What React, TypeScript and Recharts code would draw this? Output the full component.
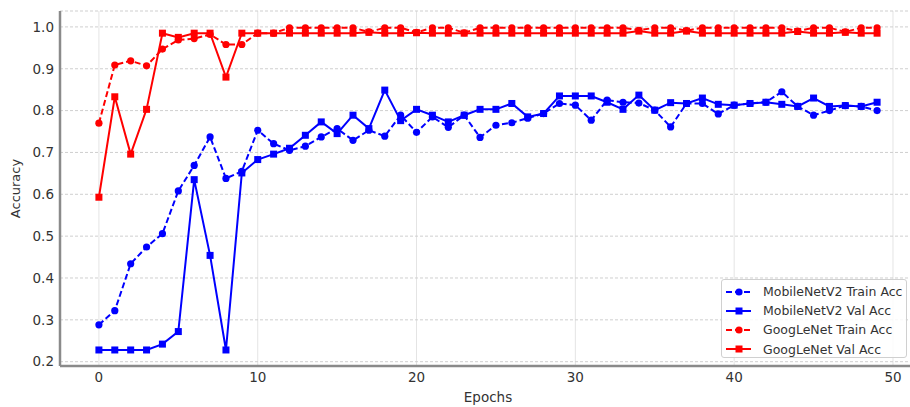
import React from "react"
import {
  LineChart,
  Line,
  XAxis,
  YAxis,
  CartesianGrid,
} from "recharts"

const epochs = [
  0, 1, 2, 3, 4, 5, 6, 7, 8, 9,
  10, 11, 12, 13, 14, 15, 16, 17, 18, 19,
  20, 21, 22, 23, 24, 25, 26, 27, 28, 29,
  30, 31, 32, 33, 34, 35, 36, 37, 38, 39,
  40, 41, 42, 43, 44, 45, 46, 47, 48, 49,
]

const mobileTrain = [
  0.288, 0.322, 0.434, 0.474, 0.506, 0.608, 0.669, 0.737, 0.638, 0.655,
  0.753, 0.721, 0.705, 0.715, 0.737, 0.757, 0.729, 0.753, 0.739, 0.789,
  0.748, 0.785, 0.76, 0.789, 0.736, 0.765, 0.771, 0.782, 0.793, 0.817,
  0.813, 0.777, 0.825, 0.82, 0.818, 0.801, 0.761, 0.817, 0.817, 0.792,
  0.813, 0.817, 0.82, 0.845, 0.81, 0.789, 0.8, 0.812, 0.81, 0.8,
]

const mobileVal = [
  0.228, 0.228, 0.228, 0.228, 0.242, 0.272, 0.635, 0.454, 0.228, 0.651,
  0.683, 0.696, 0.71, 0.741, 0.773, 0.745, 0.789, 0.757, 0.849, 0.776,
  0.803, 0.789, 0.773, 0.789, 0.803, 0.803, 0.817, 0.785, 0.793, 0.835,
  0.835, 0.835, 0.82, 0.803, 0.837, 0.801, 0.819, 0.817, 0.83, 0.815,
  0.813, 0.817, 0.82, 0.815, 0.81, 0.83, 0.81, 0.812, 0.81, 0.82,
]

const googleTrain = [
  0.77, 0.909, 0.919, 0.907, 0.947, 0.969, 0.972, 0.982, 0.958, 0.958,
  0.985, 0.985, 0.998, 0.998, 0.998, 0.998, 0.998, 0.988, 0.998, 0.998,
  0.987, 0.998, 0.998, 0.986, 0.998, 0.998, 0.998, 0.998, 0.998, 0.998,
  0.998, 0.998, 0.998, 0.998, 0.992, 0.998, 0.998, 0.991, 0.998, 0.998,
  0.998, 0.998, 0.998, 0.998, 0.99, 0.998, 0.998, 0.988, 0.998, 0.998,
]

const googleVal = [
  0.593, 0.833, 0.696, 0.803, 0.985, 0.975, 0.985, 0.985, 0.88, 0.985,
  0.985, 0.985, 0.985, 0.985, 0.985, 0.985, 0.985, 0.987, 0.985, 0.985,
  0.986, 0.985, 0.985, 0.985, 0.985, 0.985, 0.985, 0.985, 0.985, 0.985,
  0.985, 0.985, 0.985, 0.985, 0.99, 0.985, 0.985, 0.99, 0.985, 0.985,
  0.985, 0.985, 0.985, 0.985, 0.989, 0.985, 0.985, 0.987, 0.985, 0.985,
]

const xTicks = [0, 10, 20, 30, 40, 50]
const yTicks = [0.2, 0.3, 0.4, 0.5, 0.6, 0.7, 0.8, 0.9, 1.0]

const data = epochs.map((epoch, i) => ({
  epoch,
  mobileTrain: mobileTrain[i],
  mobileVal: mobileVal[i],
  googleTrain: googleTrain[i],
  googleVal: googleVal[i],
}))

const series = [
  { key: "mobileTrain", name: "MobileNetV2 Train Acc", color: "#0000ff", dashed: true },
  { key: "mobileVal", name: "MobileNetV2 Val Acc", color: "#0000ff", dashed: false },
  { key: "googleTrain", name: "GoogLeNet Train Acc", color: "#ff0000", dashed: true },
  { key: "googleVal", name: "GoogLeNet Val Acc", color: "#ff0000", dashed: false },
]

const FONT = "'DejaVu Sans', sans-serif"

function makeDot(color: string, square: boolean) {
  return (props: any) => {
    const { cx, cy, index } = props
    if (cx == null || cy == null) return <g key={index} />
    if (square) {
      return (
        <rect key={index} x={cx - 3.5} y={cy - 3.5} width={7} height={7} fill={color} />
      )
    }
    return <circle key={index} cx={cx} cy={cy} r={3.6} fill={color} />
  }
}

// legend box, placed over the lower right corner of the plot
function LegendBox() {
  return (
    <div
      style={{
        position: "absolute",
        left: 721,
        top: 279,
        width: 186,
        height: 79,
        boxSizing: "border-box",
        border: "1px solid #d0d0d0",
        borderRadius: 3,
        background: "rgba(255,255,255,0.85)",
        padding: "2px 0 0 3px",
        fontFamily: FONT,
        fontSize: 12.5,
        color: "#333",
      }}
    >
      {series.map((s) => (
        <div
          key={s.key}
          style={{ display: "flex", alignItems: "center", height: 19.2 }}
        >
          <svg width={36} height={12} style={{ marginRight: 2 }}>
            <line
              x1={1}
              y1={6}
              x2={26}
              y2={6}
              stroke={s.color}
              strokeWidth={2}
              strokeDasharray={s.dashed ? "6 3" : undefined}
            />
            {s.dashed ? (
              <circle cx={14} cy={6} r={3.6} fill={s.color} />
            ) : (
              <rect x={10.5} y={2.5} width={7} height={7} fill={s.color} />
            )}
          </svg>
          <span>{s.name}</span>
        </div>
      ))}
    </div>
  )
}

export default function App() {
  return (
    <div
      style={{
        position: "absolute",
        left: 0,
        top: 0,
        width: 910,
        height: 407,
        overflow: "hidden",
        background: "#fff",
      }}
    >
      <LineChart
        width={918}
        height={407}
        data={data}
        margin={{ top: 11, right: 2, bottom: 0, left: 0 }}
      >
        <CartesianGrid
          horizontal={false}
          stroke="#e4e4e4"
          strokeWidth={1}
        />
        <CartesianGrid
          vertical={false}
          stroke="#cfcfcf"
          strokeDasharray="3 2"
          strokeWidth={1}
        />

        <XAxis
          dataKey="epoch"
          type="number"
          domain={[-2.45, 51.45]}
          ticks={xTicks}
          allowDataOverflow
          height={41}
          tickLine={false}
          tickSize={4}
          tickMargin={2}
          axisLine={{ stroke: "#8a8a8a", strokeWidth: 2.5 }}
          tick={{ fill: "#333", fontSize: 13.5, fontFamily: FONT }}
          label={{
            value: "Epochs",
            position: "insideBottom",
            offset: 5,
            fill: "#333",
            fontSize: 13.5,
            fontFamily: FONT,
          }}
        />

        <YAxis
          type="number"
          domain={[0.1897, 1.038]}
          ticks={yTicks}
          allowDataOverflow
          width={60}
          tickLine={false}
          tickSize={4}
          tickMargin={2}
          tickFormatter={(v: number) => v.toFixed(1)}
          axisLine={{ stroke: "#8a8a8a", strokeWidth: 2.5 }}
          tick={{ fill: "#333", fontSize: 13.5, fontFamily: FONT }}
          label={{
            value: "Accuracy",
            angle: -90,
            position: "insideLeft",
            offset: 15,
            fill: "#333",
            fontSize: 13,
            fontFamily: FONT,
            style: { textAnchor: "middle" },
          }}
        />

        {series.map((s) => (
          <Line
            key={s.key}
            type="linear"
            dataKey={s.key}
            name={s.name}
            stroke={s.color}
            strokeWidth={2}
            strokeDasharray={s.dashed ? "6 3" : undefined}
            dot={makeDot(s.color, !s.dashed)}
            activeDot={false}
            isAnimationActive={false}
          />
        ))}
      </LineChart>
      <LegendBox />
    </div>
  )
}
